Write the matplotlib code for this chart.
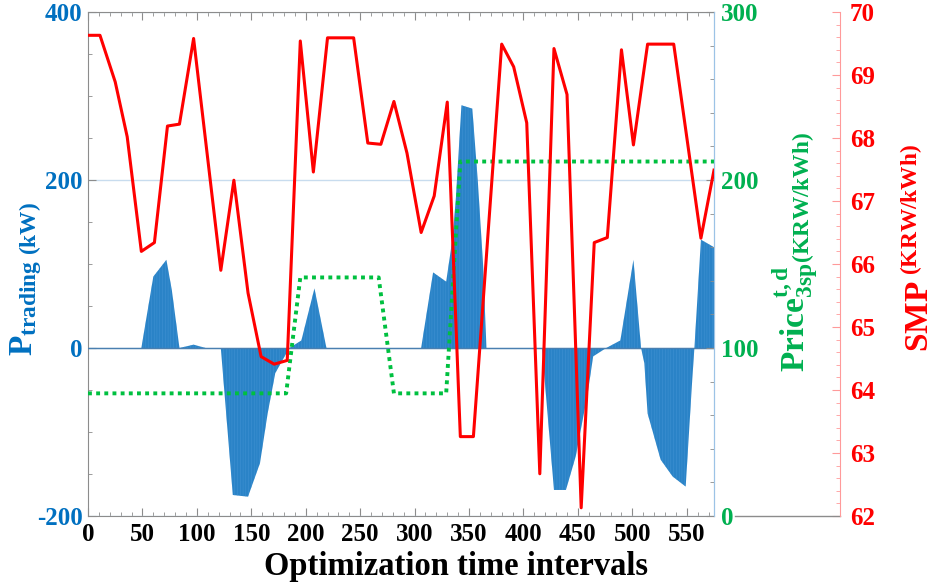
import matplotlib
matplotlib.use("Agg")
import matplotlib.pyplot as plt
from matplotlib.ticker import MultipleLocator

# P_trading (kW) at its corner points
trade_x = [0, 49, 60, 72, 77, 84, 97, 108, 122, 133, 147, 158, 165, 172, 178, 185,
           196, 208, 219, 306, 317, 329, 335, 338, 343, 353, 358, 363, 366, 417, 428,
           439, 448, 459, 464, 476, 489, 501, 508, 511, 514, 526, 537, 549, 555, 557,
           563, 575]
trade_y = [0, 0, 85, 105, 69, 0, 4, 0, 0, -175, -177, -137, -78, -30, -16, 0,
           9, 71, 0, 0, 90, 79, 132, 180, 289, 285, 200, 97, 0, 0, -169,
           -169, -129, -54, -10, 0, 9, 105, 0, -18, -78, -133, -153, -165, -38, 0,
           129, 120]

# Price 3sp (KRW/kWh)
price_x = [0, 182, 195, 267, 281, 329, 342, 575]
price_y = [73, 73, 142, 142, 73, 73, 211, 211]

# SMP (KRW/kWh)
smp_x = [0, 11, 25, 36, 49, 61, 73, 84, 97, 122, 134, 147, 159, 171, 183, 195,
         207, 220, 244, 257, 269, 281, 293, 306, 318, 330, 342, 354, 380, 391,
         403, 415, 428, 440, 453, 465, 477, 490, 501, 514, 538, 563, 575]
smp_y = [69.63, 69.63, 68.89, 68.02, 66.2, 66.34, 68.19, 68.22, 69.58, 65.9,
         67.33, 65.54, 64.53, 64.41, 64.47, 69.54, 67.46, 69.59, 69.59, 67.92,
         67.9, 68.58, 67.76, 66.5, 67.08, 68.57, 63.26, 63.26, 69.49, 69.13,
         68.24, 62.67, 69.42, 68.69, 62.13, 66.34, 66.42, 69.4, 67.89, 69.49,
         69.49, 66.41, 67.49]

plt.rcParams['font.family'] = 'Liberation Serif'
plt.rcParams['font.weight'] = 'bold'
plt.rcParams['mathtext.fontset'] = 'custom'
plt.rcParams['mathtext.rm'] = 'Liberation Serif:bold'
plt.rcParams['mathtext.bf'] = 'Liberation Serif:bold'
plt.rcParams['mathtext.it'] = 'Liberation Serif:bold'
plt.rcParams['axes.unicode_minus'] = False
plt.rcParams['hatch.linewidth'] = 0.3

BLUE = '#0070C0'
GREEN = '#00B050'
RED = '#FF0000'
GRAY = '#8c8c8c'

W, H = 936, 587
fig = plt.figure(figsize=(W / 100, H / 100), dpi=100)
ax = fig.add_axes([88 / W, 1 - 516 / H, 626 / W, 504 / H])

# trading power as dense bars -> filled area with fine vertical stripes
ax.fill_between(trade_x, trade_y, 0, facecolor='#2A83C7', edgecolor='#4596d6',
                hatch='||||||', lw=0)
ax.axhline(0, color='#4a7fb0', lw=1, zorder=3)
ax.set_xlim(0, 575)
ax.set_ylim(-200, 400)
ax.set_yticks([-200, 0, 200, 400])
ax.yaxis.set_minor_locator(MultipleLocator(50))
ax.xaxis.set_major_locator(MultipleLocator(50))
ax.xaxis.set_minor_locator(MultipleLocator(10))
ax.yaxis.grid(True, color='#c8dcee', lw=1)
ax.set_axisbelow(True)
ax.tick_params(which='both', direction='in', top=True, right=True, color=GRAY)
ax.tick_params(which='major', length=6)
ax.tick_params(which='minor', length=3)
ax.tick_params(axis='y', labelcolor=BLUE, labelsize=18, pad=4)
ax.tick_params(axis='x', labelcolor='black', labelsize=18, pad=5)
for s in ['left', 'top', 'bottom']:
    ax.spines[s].set_color(GRAY)
ax.spines['right'].set_color('#9cc3e6')

# price 3sp on the first right axis
ax2 = ax.twinx()
ax2.plot(price_x, price_y, color='#00C040', lw=2.8, ls=(0, (1, 1.1)),
         dash_capstyle='butt')
ax2.set_ylim(0, 300)
ax2.set_yticks([0, 100, 200, 300])
ax2.yaxis.set_minor_locator(MultipleLocator(20))
ax2.tick_params(which='both', direction='in', color=GRAY)
ax2.tick_params(which='major', length=6)
ax2.tick_params(which='minor', length=3)
ax2.tick_params(axis='y', labelcolor=GREEN, labelsize=18, pad=5)
for s in ['left', 'top', 'bottom']:
    ax2.spines[s].set_visible(False)
ax2.spines['right'].set_color('#9cc3e6')

# SMP on an offset right axis
ax3 = ax.twinx()
ax3.spines['right'].set_position(('axes', 752 / 626))
ax3.plot(smp_x, smp_y, color=RED, lw=2.2)
ax3.set_ylim(62, 70)
ax3.yaxis.set_major_locator(MultipleLocator(1))
ax3.yaxis.set_minor_locator(MultipleLocator(0.2))
ax3.tick_params(which='both', direction='in', color='#ff9a9a')
ax3.tick_params(which='major', length=6)
ax3.tick_params(which='minor', length=3)
ax3.tick_params(axis='y', labelcolor=RED, labelsize=18, pad=7)
for s in ['left', 'top', 'bottom']:
    ax3.spines[s].set_visible(False)
ax3.spines['right'].set_color('#ff9a9a')
ax3.plot([(735 - 88) / 626, 752 / 626], [0, 0], transform=ax3.transAxes,
         clip_on=False, color=GRAY, lw=1)

# axis labels
fig.text(26 / W, 1 - 279 / H, r'$\mathbf{P}_{\mathbf{trading\ (kW)}}$',
         rotation=90, ha='center', va='center', color=BLUE, fontsize=24)
fig.text(795 / W, 1 - 252 / H,
         r'$\mathbf{Price}^{\mathbf{t,d}}_{\mathbf{3sp}}{}_{\mathbf{(KRW/kWh)}}$',
         rotation=90, ha='center', va='center', color=GREEN, fontsize=24)
fig.text(920 / W, 1 - 248 / H, r'$\mathbf{SMP}^{\mathbf{\ (KRW/kWh)}}$',
         rotation=90, ha='center', va='center', color=RED, fontsize=24)
fig.text(456 / W, 1 - 566 / H, 'Optimization time intervals',
         ha='center', va='center', fontsize=23.5, color='black')

fig.savefig('out.png', dpi=100)
